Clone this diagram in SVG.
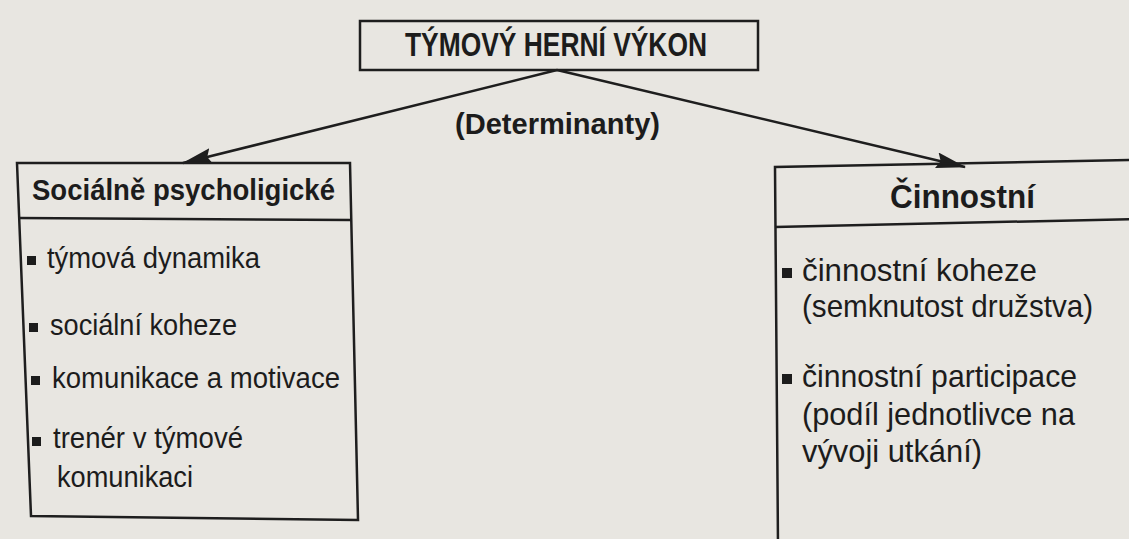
<svg xmlns="http://www.w3.org/2000/svg" width="1129" height="539" viewBox="0 0 1129 539">
<defs>
<style>
.bg{fill:#e8e6e1}
.box{fill:none;stroke:#1e1e1e;stroke-width:2.5;stroke-linejoin:miter}
.edge{fill:none;stroke:#1e1e1e;stroke-width:2.5}
.t{font-family:"Liberation Sans",Arial,Helvetica,sans-serif;fill:#1c1c1c}
.b{font-weight:bold}
.bul{fill:#1c1c1c}
</style>
<marker id="arr" viewBox="0 0 30 16" refX="29" refY="8" markerWidth="30" markerHeight="16" markerUnits="userSpaceOnUse" orient="auto">
<path d="M0,0 L30,8 L0,16 L4,8 z" fill="#1e1e1e"/>
</marker>
</defs>
<rect class="bg" x="0" y="0" width="1129" height="539"/>
<g id="connectors">
<line class="edge" x1="557" y1="70" x2="183" y2="163" marker-end="url(#arr)"/>
<line class="edge" x1="557" y1="70" x2="965" y2="167" marker-end="url(#arr)"/>
<text class="t b" x="557.5" y="134" font-size="30" text-anchor="middle" textLength="205" lengthAdjust="spacingAndGlyphs">(Determinanty)</text>
</g>
<g id="node-top">
<rect class="box" x="360" y="21" width="398" height="49"/>
<text class="t b" x="556" y="56" font-size="33" text-anchor="middle" textLength="302" lengthAdjust="spacingAndGlyphs">TÝMOVÝ HERNÍ VÝKON</text>
</g>
<g id="node-left">
<polygon class="box" points="17,163 350,163 358,520 31,516"/>
<line class="edge" x1="18" y1="218" x2="352" y2="220"/>
<text class="t b" x="32" y="200" font-size="29" textLength="303" lengthAdjust="spacingAndGlyphs">Sociálně psycholigické</text>
<rect class="bul" x="27" y="256" width="9" height="9"/>
<text class="t" x="47" y="268" font-size="29" textLength="213" lengthAdjust="spacingAndGlyphs">týmová dynamika</text>
<rect class="bul" x="29" y="323" width="9" height="9"/>
<text class="t" x="50" y="335" font-size="29" textLength="187" lengthAdjust="spacingAndGlyphs">sociální koheze</text>
<rect class="bul" x="31" y="376" width="9" height="9"/>
<text class="t" x="52" y="388" font-size="29" textLength="288" lengthAdjust="spacingAndGlyphs">komunikace a motivace</text>
<rect class="bul" x="32" y="437" width="9" height="9"/>
<text class="t" x="53" y="448" font-size="29" textLength="190" lengthAdjust="spacingAndGlyphs">trenér v týmové</text>
<text class="t" x="57" y="487" font-size="29" textLength="136" lengthAdjust="spacingAndGlyphs">komunikaci</text>
</g>
<g id="node-right">
<path class="box" d="M1135,160 L775,167 L778,545"/>
<line class="edge" x1="775" y1="227" x2="1135" y2="219"/>
<text class="t b" x="890" y="208" font-size="33" textLength="145" lengthAdjust="spacingAndGlyphs">Činnostní</text>
<rect class="bul" x="782" y="268" width="10" height="10"/>
<text class="t" x="802" y="281" font-size="32" textLength="235" lengthAdjust="spacingAndGlyphs">činnostní koheze</text>
<text class="t" x="802" y="317" font-size="32" textLength="291" lengthAdjust="spacingAndGlyphs">(semknutost družstva)</text>
<rect class="bul" x="782" y="374" width="10" height="10"/>
<text class="t" x="802" y="387" font-size="32" textLength="275" lengthAdjust="spacingAndGlyphs">činnostní participace</text>
<text class="t" x="802" y="425" font-size="32" textLength="273" lengthAdjust="spacingAndGlyphs">(podíl jednotlivce na</text>
<text class="t" x="802" y="462" font-size="32" textLength="180" lengthAdjust="spacingAndGlyphs">vývoji utkání)</text>
</g>
</svg>
